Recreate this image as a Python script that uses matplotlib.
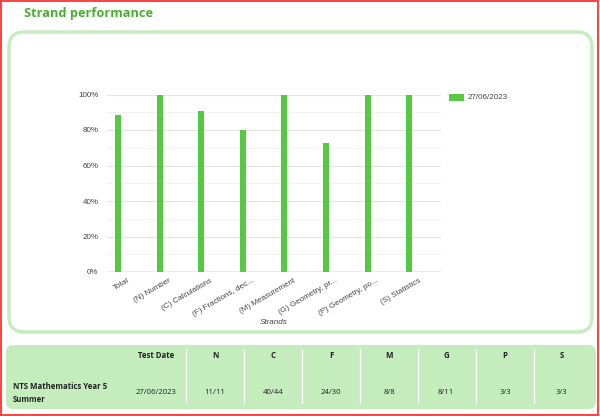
import matplotlib
matplotlib.use("Agg")
import matplotlib.pyplot as plt
from matplotlib.patches import FancyBboxPatch, Rectangle
import numpy as np

# ---- data ----
strands = ["Total", "(N) Number", "(C) Calculations", "(F) Fractions, dec...",
           "(M) Measurement", "(G) Geometry, pr...", "(P) Geometry, po...", "(S) Statistics"]
scores = [0.882, 1.0, 0.909, 0.80, 1.0, 0.727, 1.0, 1.0]
series_label = "27/06/2023"
y_ticks = [0, 0.2, 0.4, 0.6, 0.8, 1.0]
y_tick_labels = ["0%", "20%", "40%", "60%", "80%", "100%"]

table_headers = ["Test Date", "N", "C", "F", "M", "G", "P", "S"]
table_row_label = "NTS Mathematics Year 5\nSummer"
table_values = ["27/06/2023", "11/11", "40/44", "24/30", "8/8", "8/11", "3/3", "3/3"]

W, H = 600, 416
fig = plt.figure(figsize=(W / 100, H / 100), dpi=100)
fig.patch.set_facecolor("white")

def fx(x):
    return x / W

def fy(y):
    return 1 - y / H

# red outer border
fig.patches.append(Rectangle((fx(1), fy(415)), fx(597), (414) / H, transform=fig.transFigure,
                             fill=False, edgecolor="#ff2020", lw=1.2, zorder=-2))

# title
fig.text(fx(24), fy(13), "Strand performance", color="#46b02e", fontsize=9.2,
         fontweight="bold", family="Open Sans", va="center", ha="left")

# chart box
fig.patches.append(FancyBboxPatch((fx(9), fy(332)), fx(583), (332 - 32) / H,
                                  boxstyle="round,pad=0,rounding_size=0.025",
                                  transform=fig.transFigure, facecolor="white",
                                  edgecolor="#c6ecc0", lw=2.5, zorder=-1,
                                  mutation_aspect=W / H))

# table box
fig.patches.append(FancyBboxPatch((fx(6), fy(409)), fx(590), (409 - 345) / H,
                                  boxstyle="round,pad=0,rounding_size=0.012",
                                  transform=fig.transFigure, facecolor="#c4ecbd",
                                  edgecolor="none", zorder=-1, mutation_aspect=W / H))

# axes
ax_l, ax_r, ax_t, ax_b = 107, 441, 94.5, 272
ax = fig.add_axes([fx(ax_l), fy(ax_b), fx(ax_r - ax_l), (ax_b - ax_t) / H])
ax.set_zorder(3)
ax.set_facecolor("none")
x = np.arange(len(strands))
spacing = 41.6
first_center = 118
ax.set_xlim((ax_l - first_center) / spacing, (ax_r - first_center) / spacing)
ax.set_ylim(0, 1)
bar_color = "#56c941"
ax.bar(x, scores, width=6 / spacing, color=bar_color, zorder=3, label=series_label)

for v in np.arange(0.1, 1.0, 0.2):
    ax.axhline(v, color="#f2f2f2", lw=0.8, zorder=1)
for v in y_ticks[1:]:
    ax.axhline(v, color="#e3e3e3", lw=0.8, zorder=1)
ax.axhline(0, color="#9a9a9a", lw=1.0, zorder=4)

for s in ax.spines.values():
    s.set_visible(False)
ax.set_yticks(y_ticks)
ax.set_yticklabels(y_tick_labels, fontsize=5.8, color="#444444", family="Liberation Sans")
ax.tick_params(axis="y", length=0, pad=6)
ax.set_xticks([])
for i, lab in enumerate(strands):
    ax.annotate(lab, xy=(i, 0), xycoords="data", xytext=(9, -5), textcoords="offset pixels",
                rotation=30, ha="right", va="top", rotation_mode="anchor",
                fontsize=5.8, color="#444444", family="Liberation Sans", annotation_clip=False)

fig.text(fx(274), fy(322), "Strands", fontsize=5.8, style="italic", color="#444444",
         family="Liberation Sans", ha="center", va="center")

# legend
fig.patches.append(Rectangle((fx(449), fy(101)), fx(15), 7 / H, transform=fig.transFigure,
                             facecolor=bar_color, edgecolor="none", zorder=1))
fig.text(fx(468), fy(97.5), series_label, fontsize=5.8, color="#444444",
         family="Liberation Sans", ha="left", va="center")

# table content
tfont = dict(family="Open Sans", fontsize=5.6, color="#222222")
fig.text(fx(174), fy(355), table_headers[0], ha="right", va="center", fontweight="bold", **tfont)
fig.text(fx(177), fy(393), table_values[0], ha="right", va="center", **tfont)
fig.text(fx(13), fy(393), table_row_label, ha="left", va="center", fontweight="bold",
         linespacing=1.6, **tfont)
col_centers = [215, 273, 331, 389, 446, 505, 562]
seps = [186, 244, 302, 360, 418, 476, 534]
for cx, h, v in zip(col_centers, table_headers[1:], table_values[1:]):
    fig.text(fx(cx), fy(355), h, ha="center", va="center", fontweight="bold", **tfont)
    fig.text(fx(cx), fy(393), v, ha="center", va="center", **tfont)
for sx in seps:
    fig.lines.append(plt.Line2D([fx(sx), fx(sx)], [fy(349), fy(403)], transform=fig.transFigure,
                                color="white", lw=1.0))

fig.savefig("out.png", dpi=100, facecolor="white")
